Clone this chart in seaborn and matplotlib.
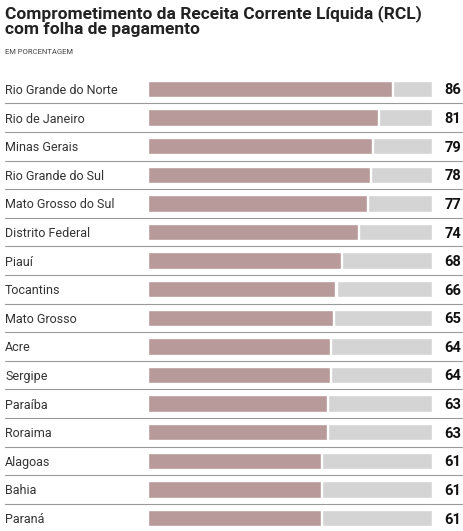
import matplotlib
matplotlib.use("Agg")
import matplotlib.pyplot as plt
import matplotlib.transforms as mtransforms
import seaborn as sns
import pandas as pd

states = ["Rio Grande do Norte", "Rio de Janeiro", "Minas Gerais", "Rio Grande do Sul",
          "Mato Grosso do Sul", "Distrito Federal", "Piauí", "Tocantins", "Mato Grosso",
          "Acre", "Sergipe", "Paraíba", "Roraima", "Alagoas", "Bahia", "Paraná"]
values = [86, 81, 79, 78, 77, 74, 68, 66, 65, 64, 64, 63, 63, 61, 61, 61]

sns.set_theme(style="white")
plt.rcParams['font.family'] = ['Roboto', 'DejaVu Sans']

W, H = 464, 531
fig = plt.figure(figsize=(W/100, H/100), dpi=100)
row0, step = 89, 28.6
top_px = row0 - step/2
ax = fig.add_axes([148/W, 0, 284/W, (H - top_px)/H])
gap = 0.4
df = pd.DataFrame({"state": states, "value": values})
df["rest"] = 100 - df["value"] - gap
df["pos"] = range(len(df))

sns.barplot(data=df, x="value", y="state", orient="h", color="#b89a9a",
            saturation=1, width=0.58, ax=ax)
ax.barh(df["pos"], df["rest"], left=df["value"] + gap, height=0.58, color="#d4d4d4")
ax.set_xlim(0, 100)
ax.set_ylim((H - row0)/step, -0.5)
ax.axis("off")

px = lambda x: (x - 148) / 284
trans = mtransforms.blended_transform_factory(ax.transAxes, ax.transData)
for i, (s, v) in enumerate(zip(states, values)):
    ax.text(px(5), i, s, transform=trans, ha="left", va="center_baseline", fontsize=9, color="#333333")
    ax.text(px(461), i, str(v), transform=trans, ha="right", va="center_baseline", fontsize=10.5,
            fontweight="bold", color="#111111")
    ax.plot([px(5), px(462)], [i + 0.5, i + 0.5], transform=trans, color="#9a9a9a",
            lw=0.8, clip_on=False)

fig.text(5/W, 1 - 21/H, "Comprometimento da Receita Corrente Líquida (RCL)\ncom folha de pagamento",
         ha="left", va="center", fontsize=12.5, fontweight="bold", color="#222222",
         linespacing=1.05)
fig.text(5/W, 1 - 52/H, "EM PORCENTAGEM", ha="left", va="center", fontsize=5.5, color="#444444")
fig.savefig("out.png", dpi=100)
